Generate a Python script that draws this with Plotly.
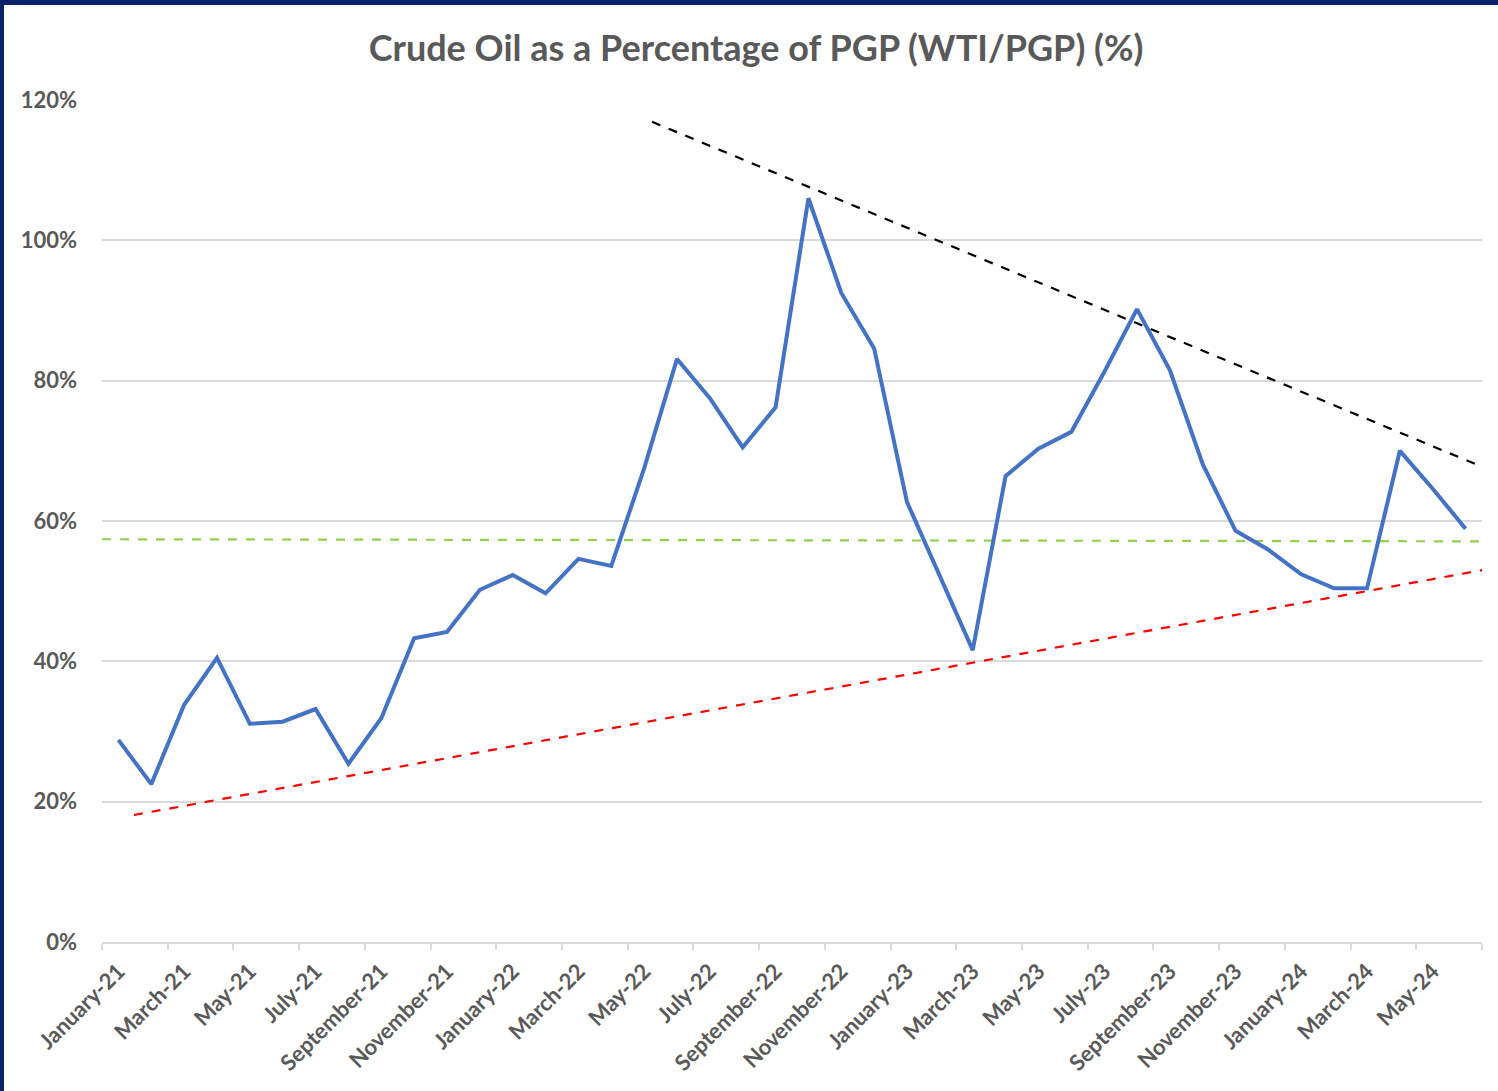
import plotly.graph_objects as go

months = ["January", "February", "March", "April", "May", "June", "July", "August",
          "September", "October", "November", "December"]
categories = [f"{m}-{y}" for y in ("21", "22", "23", "24") for m in months][:42]

wti_pgp = [28.8, 22.5, 33.8, 40.5, 31.1, 31.4, 33.2, 25.4, 31.9, 43.3,
           44.2, 50.2, 52.3, 49.7, 54.6, 53.6, 67.5, 83.1, 77.5, 70.5,
           76.2, 106.0, 92.5, 84.6, 62.7, 52.3, 41.6, 66.4, 70.3, 72.7,
           81.2, 90.2, 81.5, 68.1, 58.6, 55.9, 52.4, 50.4, 50.4, 70.0,
           64.6, 58.9]

# Hand-drawn trend lines (start/end in month index, value %)
support_x = [0.47, 41.98]
support_y = [18.1, 53.4]
resist_x = [16.24, 41.98]
resist_y = [116.9, 66.8]
avg_x = [-0.5, 41.5]
avg_y = [57.4, 57.1]

tick_idx = list(range(0, 42, 2))
tick_text = [categories[i] for i in tick_idx]

x_idx = list(range(len(categories)))

fig = go.Figure()
fig.add_trace(go.Scatter(x=avg_x, y=[v / 100 for v in avg_y], mode="lines",
                         line=dict(color="#92D050", width=2.2, dash="dash"), hoverinfo="skip"))
fig.add_trace(go.Scatter(x=support_x, y=[v / 100 for v in support_y], mode="lines",
                         line=dict(color="#FF0000", width=2.2, dash="dash"), hoverinfo="skip"))
fig.add_trace(go.Scatter(x=resist_x, y=[v / 100 for v in resist_y], mode="lines",
                         line=dict(color="#000000", width=2.2, dash="dash"), hoverinfo="skip"))
fig.add_trace(go.Scatter(x=x_idx, y=[v / 100 for v in wti_pgp], mode="lines",
                         text=categories, hovertemplate="%{text}: %{y:.1%}<extra></extra>",
                         line=dict(color="#4472C4", width=4)))

W, H = 1498, 1091
L, R, T, B = 102, 16, 100, 149
pw, ph = W - L - R, H - T - B

def px2paper_x(px):
    return (px - L) / pw

def px2paper_y(py):
    return (H - B - py) / ph

fig.update_layout(
    width=W, height=H,
    margin=dict(l=L, r=R, t=T, b=B),
    paper_bgcolor="white", plot_bgcolor="white",
    showlegend=False,
    font=dict(family="Lato", color="#595959"),
    title=dict(text="<b>Crude Oil as a Percentage of PGP (WTI/PGP) (%)</b>",
               x=756 / W, xref="container", xanchor="center", y=1 - 48 / H, yanchor="middle",
               font=dict(size=36, color="#595959", family="Lato")),
    xaxis=dict(range=[-0.5, 41.5], tickmode="array", tickvals=tick_idx, ticktext=tick_text,
               tickangle=-45, ticks="", showgrid=False, zeroline=False,
               showline=True, linecolor="#D9D9D9", linewidth=1.5, ticklabelstandoff=6,
               tickfont=dict(size=22, color="#595959", family="Lato", weight="bold"),
               minor=dict(tickmode="linear", tick0=-0.5, dtick=2, ticks="outside",
                          ticklen=6, tickcolor="#D9D9D9", tickwidth=1.5, showgrid=False)),
    yaxis=dict(range=[0, 1.2], tickmode="linear", tick0=0, dtick=0.2, tickformat=".0%",
               showgrid=True, gridcolor="#D9D9D9", gridwidth=1.5, zeroline=False,
               showline=False, ticks="", ticklabelstandoff=24,
               tickfont=dict(size=22, color="#595959", family="Lato", weight="bold")),
)

# Dark frame around the chart image
fig.add_shape(type="rect", xref="paper", yref="paper",
              x0=px2paper_x(0), x1=px2paper_x(W), y0=px2paper_y(0), y1=px2paper_y(5),
              fillcolor="#0B2266", line_width=0, layer="above")
fig.add_shape(type="rect", xref="paper", yref="paper",
              x0=px2paper_x(0), x1=px2paper_x(4), y0=px2paper_y(0), y1=px2paper_y(H),
              fillcolor="#0B2266", line_width=0, layer="above")

fig.write_html("out.html", config={"displayModeBar": False},
               post_script="document.body.style.margin='0';")
